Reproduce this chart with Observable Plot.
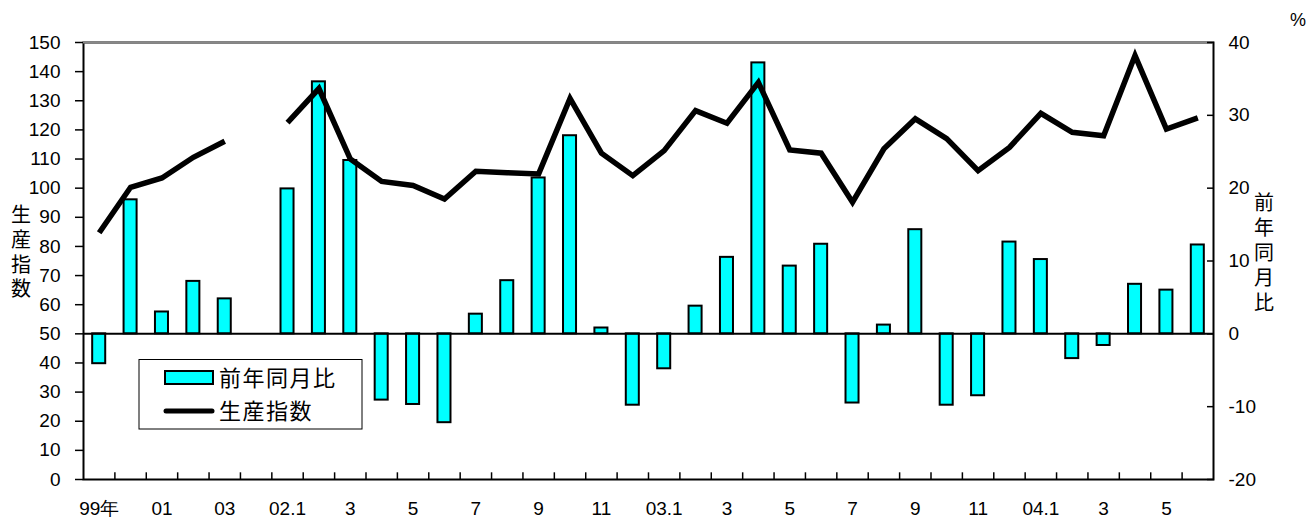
<!DOCTYPE html>
<html><head><meta charset="utf-8">
<script src="https://cdn.jsdelivr.net/npm/d3@7"></script>
<script src="https://cdn.jsdelivr.net/npm/@observablehq/plot@0.6"></script>
<style>
body{margin:0;background:#fff}
#chart{position:relative;width:1308px;height:517px}
</style>
</head><body><div id="chart"></div>
<script>
// categories: annual 1999-2003, a gap, then monthly 2002.1 - 2004.6
const categories = ["99","00","01","02","03","gap",
  "02.1","02.2","02.3","02.4","02.5","02.6","02.7","02.8","02.9","02.10","02.11","02.12",
  "03.1","03.2","03.3","03.4","03.5","03.6","03.7","03.8","03.9","03.10","03.11","03.12",
  "04.1","04.2","04.3","04.4","04.5","04.6"];
const tickLabels = {"99":"99年","01":"01","03":"03","02.1":"02.1","02.3":"3","02.5":"5","02.7":"7","02.9":"9","02.11":"11",
  "03.1":"03.1","03.3":"3","03.5":"5","03.7":"7","03.9":"9","03.11":"11","04.1":"04.1","04.3":"3","04.5":"5"};
// 生産指数 (left axis)
const productionIndex = [84.7,100.3,103.5,110.6,116.1,null,
  122.5,134.2,110.0,102.3,100.9,96.3,105.8,105.3,104.9,130.8,112.0,104.3,
  112.9,126.6,122.3,136.3,113.1,112.0,95.2,113.5,123.8,117.0,106.0,114.0,
  125.7,119.2,118.0,145.5,120.3,124.1];
// 前年同月比 % (right axis)
const yoyChange = [-4.1,18.4,3.0,7.2,4.8,null,
  19.9,34.6,23.8,-9.1,-9.7,-12.2,2.7,7.3,21.4,27.2,0.8,-9.8,
  -4.8,3.8,10.5,37.2,9.3,12.3,-9.5,1.2,14.3,-9.8,-8.5,12.6,
  10.2,-3.4,-1.6,6.8,6.0,12.2];
const leftTicks = [0,10,20,30,40,50,60,70,80,90,100,110,120,130,140,150];
const rightTicks = [-20,-10,0,10,20,30,40];
const legendLabels = ["前年同月比","生産指数"];
const leftTitle = "生産指数";
const rightTitle = "前年同月比";
const unitLabel = "%";

// right axis (-20..40) mapped onto left axis (0..150)
const toLeft = p => (p + 20) * 2.5;
const fromLeft = v => v / 2.5 - 20;

const data = categories.map((c, i) => ({c, idx: productionIndex[i], yoy: yoyChange[i]}));

const W = 1308, H = 517, mL = 83, mR = 95, mT = 42, mB = 38;
const step = (W - mL - mR) / categories.length;
const font = "'Liberation Sans', Arial, sans-serif";
const cjk = "'Noto Sans CJK JP', 'Noto Sans CJK SC', sans-serif";

const plot = Plot.plot({
  width: W, height: H,
  marginLeft: mL, marginRight: mR, marginTop: mT, marginBottom: mB,
  style: {fontFamily: font, fontSize: "19px", color: "#000", background: "#fff", overflow: "visible"},
  x: {domain: categories, paddingInner: 0.585, paddingOuter: 0.2925, round: false, axis: null},
  y: {domain: [0, 150], axis: null},
  marks: [
    Plot.barY(data.filter(d => d.yoy != null), {x: "c", y1: d => toLeft(0), y2: d => toLeft(d.yoy), fill: "#00FFFF", stroke: "#000", strokeWidth: 2}),
    Plot.ruleY([toLeft(0)], {stroke: "#000", strokeWidth: 2}),
    Plot.lineY(data, {x: "c", y: "idx", stroke: "#000", strokeWidth: 5.5, strokeLinejoin: "miter", strokeLinecap: "butt", strokeMiterlimit: 10}),
    Plot.ruleX(categories.slice(1), {x: d => d, y1: 0, y2: 2.3, dx: -step / 2, stroke: "#000", strokeWidth: 1.5}),
    Plot.frame({stroke: "#000", strokeWidth: 2}),
    Plot.ruleY([150], {stroke: "#888", strokeWidth: 2}),
    Plot.axisY(leftTicks, {anchor: "left", label: null, tickSize: 8, tickPadding: 15, tickFormat: d => String(d), fontSize: 19, strokeWidth: 1.5}),
    Plot.axisY(rightTicks.map(toLeft), {anchor: "right", label: null, tickSize: -7, tickPadding: 22, tickFormat: v => String(Math.round(fromLeft(v))), fontSize: 19, textAnchor: "start", strokeWidth: 1.5}),
    Plot.axisX(Object.keys(tickLabels), {anchor: "bottom", label: null, tickSize: 0, tickPadding: 22, tickFormat: c => tickLabels[c], fontSize: 19})
  ]
});
document.getElementById("chart").appendChild(plot);

const svg = d3.select(plot);
// vertical axis titles
svg.append("text").attr("x", 21).attr("y", 254).attr("text-anchor", "middle")
  .attr("font-family", cjk).attr("font-size", 20).attr("letter-spacing", 4.7)
  .style("writing-mode", "vertical-rl").text(leftTitle);
svg.append("text").attr("x", 1264).attr("y", 255).attr("text-anchor", "middle")
  .attr("font-family", cjk).attr("font-size", 20).attr("letter-spacing", 5)
  .style("writing-mode", "vertical-rl").text(rightTitle);
svg.append("text").attr("x", 1298).attr("y", 20).attr("dy", "0.36em").attr("text-anchor", "middle")
  .attr("font-family", font).attr("font-size", 18).text(unitLabel);

// legend
const lg = svg.append("g");
lg.append("rect").attr("x", 139).attr("y", 359.5).attr("width", 223).attr("height", 69.5)
  .attr("fill", "#fff").attr("stroke", "#000").attr("stroke-width", 1);
lg.append("rect").attr("x", 165).attr("y", 371).attr("width", 48).attr("height", 13)
  .attr("fill", "#00FFFF").attr("stroke", "#000").attr("stroke-width", 2);
lg.append("line").attr("x1", 166).attr("x2", 212).attr("y1", 411).attr("y2", 411)
  .attr("stroke", "#000").attr("stroke-width", 5).attr("stroke-linecap", "round");
legendLabels.forEach((t, i) => lg.append("text").attr("x", 219).attr("y", 378.5 + i * 33).attr("dy", "0.36em")
  .attr("text-anchor", "start").attr("font-family", cjk).attr("font-size", 22).attr("letter-spacing", 1.5).text(t));
</script>
</body></html>
